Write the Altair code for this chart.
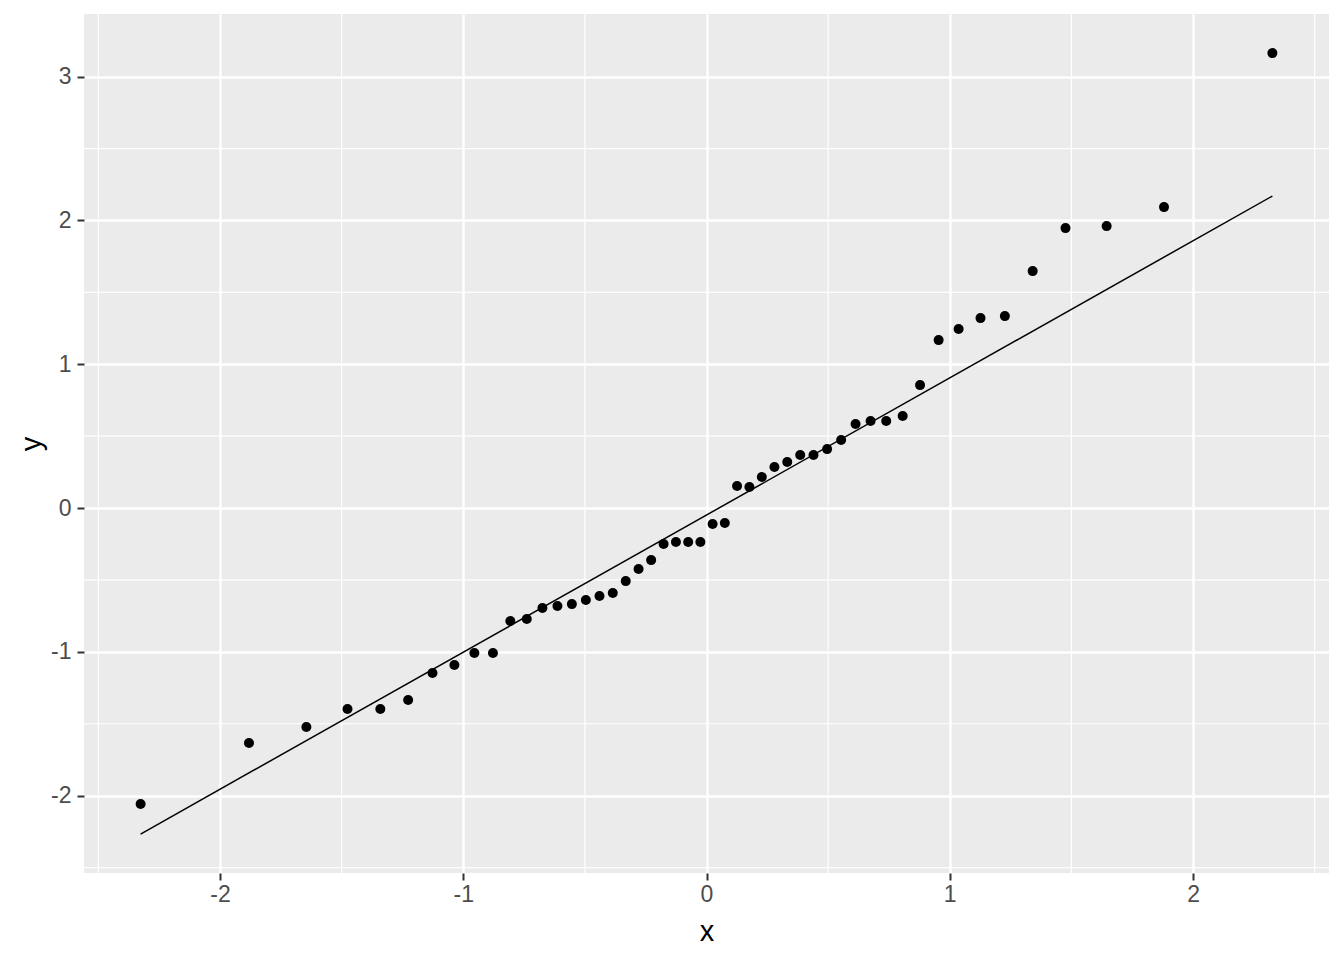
import altair as alt
import pandas as pd

# theoretical quantiles (x) and sample values (y)
theo = [-2.3263, -1.8808, -1.6449, -1.4758, -1.3408, -1.2265, -1.1264, -1.0364, -0.9542, -0.8779,
        -0.8064, -0.7388, -0.6745, -0.6128, -0.5534, -0.4959, -0.4399, -0.3853, -0.3319, -0.2793,
        -0.2275, -0.1764, -0.1257, -0.0753, -0.0251, 0.0251, 0.0753, 0.1257, 0.1764, 0.2275,
        0.2793, 0.3319, 0.3853, 0.4399, 0.4959, 0.5534, 0.6128, 0.6745, 0.7388, 0.8064,
        0.8779, 0.9542, 1.0364, 1.1264, 1.2265, 1.3408, 1.4758, 1.6449, 1.8808, 2.3263]
sample = [-2.058, -1.634, -1.523, -1.398, -1.398, -1.335, -1.147, -1.092, -1.008, -1.008,
          -0.786, -0.772, -0.695, -0.681, -0.668, -0.640, -0.612, -0.591, -0.508, -0.424,
          -0.362, -0.250, -0.236, -0.236, -0.236, -0.111, -0.104, 0.153, 0.146, 0.216,
          0.285, 0.320, 0.369, 0.369, 0.410, 0.473, 0.584, 0.605, 0.605, 0.640,
          0.855, 1.168, 1.245, 1.321, 1.335, 1.648, 1.947, 1.961, 2.093, 3.164]

line_x = [-2.3263, 2.3263]
line_y = [-2.267, 2.170]

x_ticks = [-2, -1, 0, 1, 2]
y_ticks = [-2, -1, 0, 1, 2, 3]
x_minor = [-2.5, -1.5, -0.5, 0.5, 1.5, 2.5]
y_minor = [-2.5, -1.5, -0.5, 0.5, 1.5, 2.5]

x_dom = [-2.559, 2.559]
y_dom = [-2.538, 3.436]

pts = pd.DataFrame({"x": theo, "y": sample})
ln = pd.DataFrame({"x": line_x, "y": line_y})

xs = alt.Scale(domain=x_dom, nice=False, zero=False)
ys = alt.Scale(domain=y_dom, nice=False, zero=False)

ax_style = dict(
    grid=True, gridColor="white", gridWidth=2.4, domain=False,
    tickColor="#333333", tickWidth=2, tickSize=7,
    labelColor="#4D4D4D", labelFontSize=23, labelFont="Liberation Sans",
    titleFontSize=29, titleFont="Liberation Sans", titleFontWeight="normal", titleColor="black",
    labelExpr="toString(datum.value)",
)
x_axis = alt.Axis(values=x_ticks, titlePadding=11, labelPadding=3, **ax_style)
y_axis = alt.Axis(values=y_ticks, titlePadding=4, labelPadding=6, **ax_style)

xminor = alt.Chart(pd.DataFrame({"v": x_minor})).mark_rule(color="white", strokeWidth=1.2).encode(
    x=alt.X("v:Q", scale=xs, axis=x_axis, title="x")
)
yminor = alt.Chart(pd.DataFrame({"v": y_minor})).mark_rule(color="white", strokeWidth=1.2).encode(
    y=alt.Y("v:Q", scale=ys, axis=y_axis, title="y")
)

points = alt.Chart(pts).mark_circle(size=100, color="black", opacity=1).encode(
    x=alt.X("x:Q", scale=xs, axis=x_axis, title="x"),
    y=alt.Y("y:Q", scale=ys, axis=y_axis, title="y"),
)

line = alt.Chart(ln).mark_line(color="black", strokeWidth=1.5).encode(
    x=alt.X("x:Q", scale=xs, axis=x_axis, title="x"),
    y=alt.Y("y:Q", scale=ys, axis=y_axis, title="y"),
)

chart = alt.layer(xminor, yminor, points, line).properties(
    width=1245, height=859,
    autosize=alt.AutoSizeParams(type="none"),
    padding={"left": 76, "top": 6, "right": 7, "bottom": 80},
    background="white",
).configure_view(
    fill="#EBEBEB", strokeWidth=0
)

chart.save("out.html", embed_options={"renderer": "svg", "actions": False})
